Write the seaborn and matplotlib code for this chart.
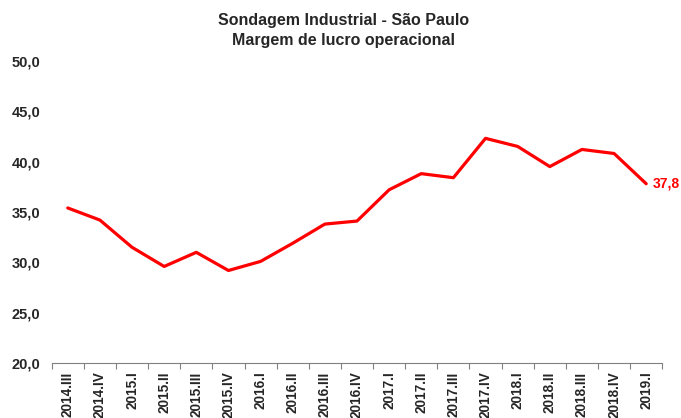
import numpy as np
import pandas as pd
import matplotlib
matplotlib.use("Agg")
import matplotlib.pyplot as plt
import seaborn as sns

quarters = ["2014.III", "2014.IV", "2015.I", "2015.II", "2015.III", "2015.IV",
            "2016.I", "2016.II", "2016.III", "2016.IV", "2017.I", "2017.II",
            "2017.III", "2017.IV", "2018.I", "2018.II", "2018.III", "2018.IV", "2019.I"]
margem = [35.4, 34.2, 31.5, 29.6, 31.0, 29.2, 30.1, 31.9, 33.8, 34.1, 37.2, 38.8,
          38.4, 42.3, 41.5, 39.5, 41.2, 40.8, 37.8]
yticks = [20, 25, 30, 35, 40, 45, 50]

sns.set_theme(style="white")
plt.rcParams['font.family'] = ['Liberation Sans', 'DejaVu Sans']
plt.rcParams['font.weight'] = 'bold'

df = pd.DataFrame({"trimestre": quarters, "margem": margem})

fig = plt.figure(figsize=(6.81, 4.18), dpi=100)
ax = fig.add_axes([0.0759, 0.1309, 0.8966, 0.7239])

sns.lineplot(data=df, x="trimestre", y="margem", ax=ax, color="#ff0000",
             linewidth=2.3, sort=False)

n = len(quarters)
ax.set_xlim(-0.5, n - 0.5)
ax.set_ylim(yticks[0], yticks[-1])
ax.set_yticks(yticks)
ax.set_yticklabels([f"{v:.1f}".replace(".", ",") for v in yticks],
                   fontsize=10.5, fontweight="bold")
ax.set_xticks(range(n))
ax.set_xticklabels(quarters, rotation=90, fontsize=9.8, fontweight="bold")
ax.set_xticks(np.arange(-0.5, n, 1), minor=True)
ax.tick_params(axis="x", which="major", length=0, pad=6)
ax.tick_params(axis="x", which="minor", length=4, color="#808080", width=0.8,
               direction="out", bottom=True)
ax.tick_params(axis="y", length=0, pad=8)
ax.set_xlabel("")
ax.set_ylabel("")
ax.grid(False)

for s in ["top", "right", "left"]:
    ax.spines[s].set_visible(False)
ax.spines["bottom"].set_color("#808080")
ax.spines["bottom"].set_linewidth(0.8)

ax.annotate(f"{margem[-1]:.1f}".replace(".", ","), xy=(n - 1, margem[-1]),
            xytext=(4.5, 0), textcoords="offset points", color="#ff0000",
            fontsize=10, fontweight="bold", va="center", ha="left",
            annotation_clip=False)

fig.text(0.504, 0.968, "Sondagem Industrial - São Paulo\nMargem de lucro operacional",
         ha="center", va="top", fontsize=11.5, fontweight="bold", linespacing=1.35)

fig.savefig("out.png", dpi=100)
